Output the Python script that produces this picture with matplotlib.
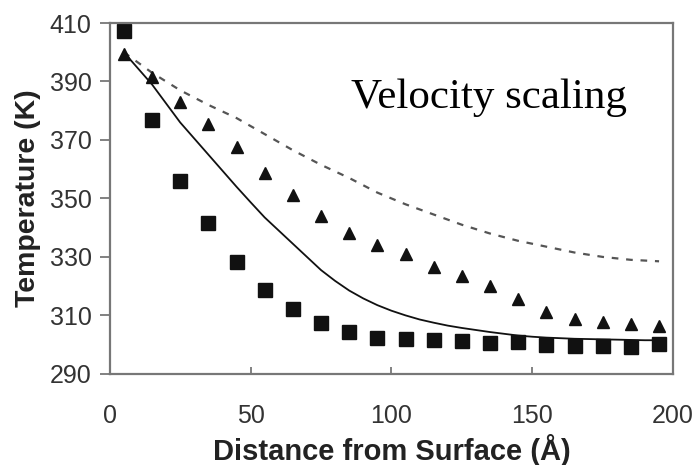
import numpy as np
import matplotlib
matplotlib.use("Agg")
import matplotlib.pyplot as plt

# measured points (every 10 A)
x_pts = [5, 15, 25, 35, 45, 55, 65, 75, 85, 95, 105, 115, 125, 135, 145, 155, 165, 175, 185, 195]
t_squares = [407.3, 376.8, 356, 341.5, 328.3, 318.7, 312.2, 307.4, 304.4, 302.3,
             302, 301.6, 301.3, 300.6, 301, 300, 299.6, 299.6, 299.2, 300.3]
t_triangles = [399.5, 391.5, 383, 375.5, 367.6, 358.7, 351.2, 344, 338.2, 334.1,
               331, 326.5, 323.5, 320, 315.6, 311, 308.8, 307.8, 307, 306.3]

# solid curve
x_solid = [5, 10, 15, 20, 25, 30, 35, 40, 45, 50, 55, 60, 65, 70, 75, 80, 85, 90, 95, 100,
           105, 110, 115, 120, 125, 130, 135, 140, 145, 150, 155, 160, 165, 170, 175, 180,
           185, 190, 195]
t_solid = [400, 394.5, 389, 382.5, 376, 370.5, 365, 359.5, 354, 348.7, 343.5, 339, 334.5,
           330, 325.5, 321.8, 318.5, 315.8, 313.5, 311.6, 310, 308.6, 307.5, 306.5, 305.7,
           305, 304.3, 303.7, 303.1, 302.7, 302.4, 302.2, 302, 301.9, 301.8, 301.7, 301.6,
           301.5, 301.5]

# dashed curve
x_dash = [5, 15, 25, 35, 45, 55, 65, 75, 85, 95, 105, 115, 125, 135, 145, 155, 165, 175, 185, 195]
t_dash = [400, 393, 387, 382, 377.5, 372, 366.5, 361.5, 357, 352, 348, 344.5, 341, 338,
          335.5, 333.5, 331.5, 330, 329, 328.5]

x_ticks = [0, 50, 100, 150, 200]
y_ticks = [290, 310, 330, 350, 370, 390, 410]

fig = plt.figure(figsize=(6.99, 4.65), dpi=100)
ax = fig.add_axes([0.157, 0.196, 0.806, 0.7545])

ax.plot(x_dash, t_dash, color="#555555", lw=1.6, ls=(0, (3, 3.5)))
ax.plot(x_solid, t_solid, color="#111111", lw=1.3)
ax.plot(x_pts, t_triangles, ls="none", marker="^", ms=8.5, color="#111111")
ax.plot(x_pts, t_squares, ls="none", marker="s", ms=9.5, color="#111111")

ax.set_xlim(0, 200)
ax.set_ylim(290, 410)
ax.set_xticks(x_ticks)
ax.set_yticks(y_ticks)

for s in ax.spines.values():
    s.set_color("#777777")
    s.set_linewidth(1.6)

ax.tick_params(axis="y", direction="out", length=7, width=1.3, color="#777777",
               labelsize=18, labelcolor="#333333", pad=6)
ax.tick_params(axis="x", direction="in", length=5, width=1.3, color="#777777",
               labelsize=18, labelcolor="#333333", pad=22)
for lab in ax.get_xticklabels() + ax.get_yticklabels():
    lab.set_family("Liberation Sans")

ax.set_xlabel("Distance from Surface (Å)", fontsize=21, fontweight="bold",
              family="Liberation Sans", color="#222222", labelpad=4)
ax.set_ylabel("Temperature (K)", fontsize=20.5, fontweight="bold",
              family="Liberation Sans", color="#222222", labelpad=6)

ax.text(85.6, 380.9, "Velocity scaling", fontsize=31, family="Liberation Serif",
        va="baseline", ha="left", color="black")

fig.savefig("out.png", dpi=100)
